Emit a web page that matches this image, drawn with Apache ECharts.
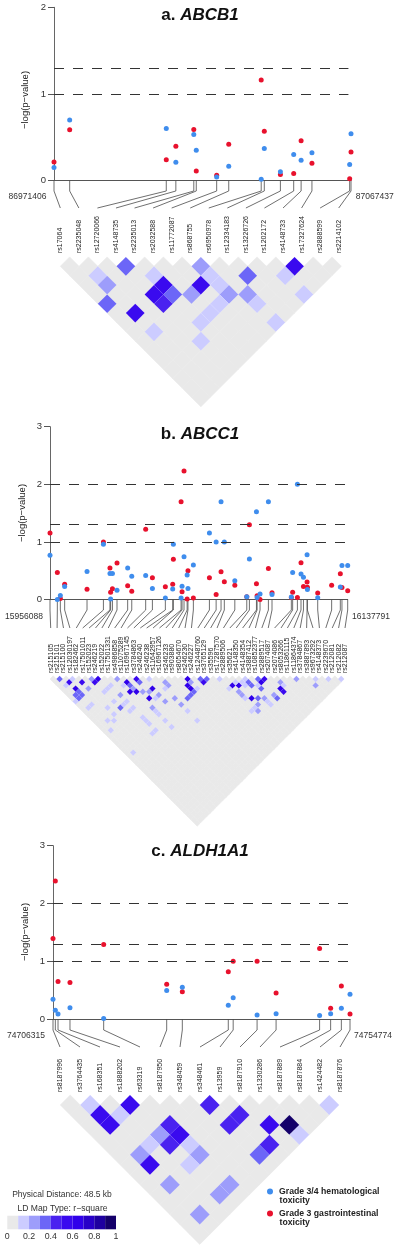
<!DOCTYPE html>
<html><head><meta charset="utf-8">
<style>html,body{margin:0;padding:0;background:#fff}#c{width:400px;height:1246px}</style>
<script src="https://cdn.jsdelivr.net/npm/echarts@6/dist/echarts.min.js"></script>
</head><body><div id="c"></div>
<script>
// ---------- Panel a: ABCB1 ----------
const snpsA = ['rs17064','rs2235048','rs12720066','rs4148735','rs2235013','rs2032588','rs11772087','rs868755','rs6950978','rs12334183','rs13226726','rs1202172','rs4148733','rs17327624','rs2888599','rs2214102'];
const posA = [0,5.07,36.3,39.4,45.2,46.0,52.6,56.5,67.0,68.0,73.2,77.5,79.9,83.4,95.6,96.03];
const redA = [.215,.585,.24,.395,.59,.11,.06,.42,1.16,.57,.07,.08,.46,.2,.02,.33];
const blueA = [.15,.7,.6,.21,.53,.35,.04,.165,.015,.37,.1,.3,.235,.32,.185,.54];
const ldA = [[3,4,.35],[12,13,.55],[7,8,.25],[1,3,.15],[1,4,.25],[4,6,.15],[4,7,.55],[3,7,.5],[4,8,.35],[3,8,.45],[5,9,.25],[6,9,.55],[7,9,.15],[7,10,.15],[7,11,.25],[6,11,.15],[5,11,.15],[4,11,.15],[9,11,.35],[8,12,.25],[8,13,.15],[0,5,.35],[1,7,.55],[1,9,.15],[3,12,.15],[8,15,.15],[11,13,.15],[11,15,.15]];
const thresholdsA = [1,1.301];

// ---------- Panel b: ABCC1 ----------
const snpsB = ['rs215105','rs215101','rs215100','rs12030197','rs182462','rs17501011','rs152023','rs246219','rs152022','rs17501331','rs4986858','rs11075289','rs16967145','rs3784863','rs246240','rs246238','rs11642957','rs16967126','rs246233','rs903880','rs8054670','rs246230','rs246227','rs12448760','rs3765129','rs35596','rs17287570','rs2889506','rs35621','rs4148350','rs4148354','rs3887412','rs10852377','rs2889517','rs2074087','rs2074086','rs8053266','rs11861115','rs11864374','rs3784867','rs3887893','rs9673292','rs4148373','rs2239670','rs212081','rs212082','rs212087'];
const posB = [0,4.48,6.31,8.95,22.6,32.6,36.6,37.0,38.1,40.9,47.4,49.9,58.4,62.5,70.4,74.9,75.3,80.0,80.6,81.8,83.7,84.2,87.5,97.3,101.4,104.4,106.4,112.8,120.1,121.7,126.0,126.4,128.2,133.3,135.5,147.3,148.1,151.0,153.2,154.7,156.9,157.1,163.4,171.9,177.2,178.2,181.7];
const redB = [1.155,.47,.02,.27,.18,1.0,.55,.13,.19,.635,.24,.145,1.22,.38,.225,.27,.70,1.70,.14,2.23,.01,.5,.03,.38,.09,.485,.31,.25,.05,1.3,.275,.07,.005,.54,.12,.04,.13,.04,.64,.23,.305,.215,.115,.25,.45,.21,.155];
const blueB = [.77,.005,.075,.23,.49,.96,.455,.01,.455,.165,.55,.405,.42,.195,.03,.185,.96,.03,.235,.745,.43,.195,.6,1.155,1.0,1.70,1.0,.33,.05,.705,1.525,.04,.1,1.7,.09,.045,.47,2.0,.445,.39,.78,.175,.035,null,.22,.595,.595];
const ldB = [[1,2,.35],[2,4,.55],[4,6,.55],[2,6,.6],[6,7,.25],[7,8,.6],[6,8,.5],[10,11,.25],[11,13,.6],[13,14,.5],[13,15,.35],[15,16,.15],[8,11,.15],[7,11,.15],[6,11,.15],[11,14,.35],[11,15,.25],[10,13,.15],[10,15,.6],[11,16,.6],[12,17,.25],[14,18,.6],[13,18,.25],[12,19,.6],[8,14,.25],[3,4,.15],[1,4,.15],[4,8,.25],[1,7,.35],[1,8,.35],[2,8,.35],[2,7,.35],[0,8,.15],[17,19,.25],[17,20,.25],[16,20,.15],[14,20,.25],[13,20,.15],[14,22,.25],[16,23,.25],[16,25,.25],[21,22,.6],[20,23,.6],[20,24,.6],[20,25,.35],[19,25,.35],[18,25,.35],[21,25,.15],[21,23,.25],[11,21,.25],[11,22,.15],[11,23,.15],[8,16,.15],[7,16,.15],[8,18,.15],[7,18,.15],[6,16,.35],[4,14,.15],[2,11,.15],[1,11,.15],[6,14,.15],[4,16,.15],[2,16,.15],[3,17,.15],[1,18,.15],[8,21,.15],[8,22,.15],[8,23,.15],[11,25,.15],[11,27,.15],[8,25,.15],[7,25,.15],[16,27,.15],[16,30,.15],[1,25,.15],[23,24,.35],[24,25,.35],[23,25,.5],[26,27,.15],[27,30,.6],[28,31,.6],[26,30,.15],[28,30,.15],[30,31,.15],[29,31,.15],[30,32,.35],[30,33,.35],[29,32,.15],[27,32,.25],[27,33,.25],[27,34,.15],[32,33,.35],[33,34,.5],[32,34,.6],[31,35,.35],[31,34,.15],[28,35,.6],[29,36,.35],[30,37,.25],[30,38,.15],[30,39,.15],[28,37,.25],[27,37,.15],[26,37,.15],[27,38,.25],[35,37,.25],[35,38,.15],[34,38,.6],[34,39,.5],[32,39,.35],[32,38,.25],[38,39,.25],[41,42,.15],[40,43,.25],[43,44,.15],[45,46,.15]];
const thresholdsB = [1,1.301,2];

// ---------- Panel c: ALDH1A1 ----------
const snpsC = ['rs8187996','rs3764435','rs168351','rs1888202','rs63319','rs8187950','rs348459','rs348461','rs13959','rs8187910','rs1330286','rs8187889','rs8187884','rs1424482','rs8187876'];
const posC = [0,.38,.82,2.77,8.27,18.55,21.1,28.6,29.4,33.3,36.4,43.5,45.3,47.05,48.46];
const redC = [1.395,2.39,.65,.63,1.29,.6,.47,.82,1.0,1.0,.45,1.22,.185,.57,.085];
const blueC = [.34,.15,.085,.195,.01,.495,.55,.24,.37,.07,.09,.06,.09,.185,.43];
const ldC = [[1,2,.15],[3,4,.5],[7,8,.45],[13,14,.15],[2,4,.15],[1,3,.5],[1,4,.5],[8,10,.45],[7,10,.45],[4,7,.45],[4,8,.5],[3,7,.25],[3,8,.45],[2,7,.15],[4,9,.15],[1,7,.25],[1,8,.55],[4,10,.25],[3,10,.15],[1,10,.25],[4,13,.25],[3,13,.25],[1,13,.25],[9,12,.55],[10,13,.95],[10,14,.15],[8,13,.45],[7,13,.35]];
const thresholdsC = [1,1.301,2];

// ---------- LD colour key ----------
const ldBinEdges = [0,.1,.2,.3,.4,.5,.6,.7,.8,.9,1];
const ldColors = ['#e9e9e9','#ccccff','#9d9dfb','#6c66f7','#4a22f0','#3a0aef','#3000ea','#2800c8','#1e00a0','#14006a'];
const BLUE = '#3f8ded', RED = '#e8112d', NAME_BLUE = 'Grade 3/4 hematological toxicity', NAME_RED = 'Grade 3 gastrointestinal toxicity';

// ---------- layout, in page pixels ----------
const panels = [
 {gene:'ABCB1', tag:'a.', snps:snpsA, pos:posA, red:redA, blue:blueA, ld:ldA, thr:thresholdsA, yMax:2, start:'86971406', end:'87067437',
  left:54, width:297, top:7.3, height:173.2, dashEnd:95.2, connEnd:208, stem:10.5, slotL:60.3, slotR:338.7, labelY:254,
  ldL:60.3, ldT:256.9, ldD:9.37, titleY:7, nameY:100, nameX:25, endY:197, endL:27.5, endR:374.7},
 {gene:'ABCC1', tag:'b.', snps:snpsB, pos:posB, red:redB, blue:blueB, ld:ldB, thr:thresholdsB, yMax:3, start:'15956088', end:'16137791',
  left:50, width:297.7, top:426.7, height:173, dashEnd:180.1, connEnd:628, stem:10.3, slotL:50.7, slotR:345, labelY:674,
  ldL:50, ldT:675.8, ldD:3.2, titleY:426, nameY:513, nameX:22, endY:617, endL:24, endR:371},
 {gene:'ALDH1A1', tag:'c.', snps:snpsC, pos:posC, red:redC, blue:blueC, ld:ldC, thr:thresholdsC, yMax:3, start:'74706315', end:'74754774',
  left:53, width:297, top:845.7, height:173.3, dashEnd:48.2, connEnd:1047, stem:11, slotL:60, slotR:340, labelY:1093,
  ldL:60.3, ldT:1095, ldD:9.96, titleY:843, nameY:932, nameX:25, endY:1036, endL:26, endR:373}
];

const grids=[], xAxes=[], yAxes=[], series=[], titles=[], graphics=[];
function addGrid(g,x,y){ grids.push(g); const idx=grids.length-1; xAxes.push(Object.assign({gridIndex:idx},x)); yAxes.push(Object.assign({gridIndex:idx},y)); return idx; }
const hidden = {show:false};
const text = (t,x,y,opt)=>({type:'text',x,y,silent:true,style:Object.assign({text:t,fill:'#333',font:'8.5px "Liberation Sans"',textAlign:'center',textVerticalAlign:'middle'},opt||{})});

panels.forEach(p=>{
  const span = p.pos[p.pos.length-1];
  // association plot
  const g0 = addGrid({left:p.left,top:p.top,width:p.width,height:p.height},
    {type:'value',min:0,max:span,axisLine:{onZero:false,lineStyle:{color:'#555',width:1}},axisTick:hidden,axisLabel:hidden,splitLine:hidden},
    {type:'value',min:0,max:p.yMax,interval:1,axisLine:{show:true,lineStyle:{color:'#666',width:1}},axisTick:{show:true,length:6,lineStyle:{color:'#555'}},axisLabel:{fontSize:9.5,color:'#333',margin:8,fontFamily:'Liberation Sans'},splitLine:hidden});
  series.push({type:'scatter',name:NAME_RED,xAxisIndex:g0,yAxisIndex:g0,clip:false,symbolSize:5,itemStyle:{color:RED,opacity:1},
    data:p.pos.map((x,i)=>[x,p.red[i]]),
    markLine:{silent:true,symbol:'none',label:hidden,lineStyle:{color:'#333',type:[10,9],width:1},
      data:p.thr.map(t=>[{coord:[0,t]},{coord:[p.dashEnd,t]}])}});
  series.push({type:'scatter',name:NAME_BLUE,xAxisIndex:g0,yAxisIndex:g0,clip:false,symbolSize:5,itemStyle:{color:BLUE,opacity:1},
    data:p.pos.map((x,i)=>[x,p.blue[i]]).filter(d=>d[1]!=null)});

  // connectors: SNP position down to its evenly spaced label slot
  const n = p.snps.length, connH = p.connEnd-(p.top+p.height);
  const slotKb = k => ((p.slotL + k*(p.slotR-p.slotL)/(n-1)) - p.left)/p.width*span;
  const g1 = addGrid({left:p.left,top:p.top+p.height,width:p.width,height:connH},
    {type:'value',min:0,max:span,show:false},{type:'value',min:0,max:connH,inverse:true,show:false});
  series.push({type:'custom',xAxisIndex:g1,yAxisIndex:g1,silent:true,
    data:p.pos.map((x,k)=>[x,slotKb(k)]),
    renderItem:(params,api)=>({type:'polyline',shape:{points:[
        api.coord([api.value(0),0]),api.coord([api.value(0),p.stem]),api.coord([api.value(1),connH])]},
      style:{stroke:'#4a4a4a',lineWidth:.8,fill:null}})});

  // SNP names along a top axis
  addGrid({left:p.slotL,top:p.labelY,width:p.slotR-p.slotL,height:1},
    {type:'category',position:'top',data:p.snps,boundaryGap:false,axisLine:hidden,axisTick:hidden,
     axisLabel:{rotate:90,interval:0,fontSize:7,color:'#222',margin:1,fontFamily:'Liberation Sans'}},
    {type:'value',show:false,min:0,max:1});

  // LD triangle
  const cells=[];
  const hit={}; p.ld.forEach(c=>{hit[c[0]+'_'+c[1]]=c[2];});
  for(let i=0;i<n-1;i++)for(let j=i+1;j<n;j++) if(!(i+'_'+j in hit)) cells.push([i,j,0]);
  p.ld.forEach(c=>cells.push(c));
  const g3 = addGrid({left:p.ldL,top:p.ldT,width:p.ldD*(2*n-2),height:p.ldD*n},
    {type:'value',min:0,max:2*n-2,show:false},{type:'value',min:0,max:n,inverse:true,show:false});
  series.push({type:'custom',xAxisIndex:g3,yAxisIndex:g3,silent:true,data:cells,
    renderItem:(params,api)=>{
      const i=api.value(0),j=api.value(1),r=api.value(2),u=i+j,v=j-i;
      const col=ldColors[Math.min(9,Math.floor(r*10))];
      return {type:'polygon',shape:{points:[api.coord([u-1,v]),api.coord([u,v-1]),api.coord([u+1,v]),api.coord([u,v+1])]},
        style:{fill:col,stroke:r===0?col:null,lineWidth:r===0?.6:0}};
    }});

  // texts
  titles.push({text:'{t|'+p.tag+' }{g|'+p.gene+'}',left:'center',top:p.titleY,padding:0,
    textStyle:{rich:{t:{fontSize:17,fontWeight:'bold',color:'#111',fontFamily:'Liberation Sans'},g:{fontSize:17,fontWeight:'bold',fontStyle:'italic',color:'#111',fontFamily:'Liberation Sans'}}}});
  graphics.push(text(p.start,p.endL,p.endY));
  graphics.push(text(p.end,p.endR,p.endY));
  graphics.push(text('\u2212log(p\u2212value)',p.nameX,p.nameY,{font:'9.5px "Liberation Sans"',fill:'#222'}));
  graphics[graphics.length-1].rotation=Math.PI/2;
});

// LD colour key
const gKey = addGrid({left:7.3,top:1215.7,width:108.7,height:13.6},
  {type:'value',min:0,max:1,interval:.2,axisLine:hidden,axisTick:hidden,splitLine:hidden,
   axisLabel:{fontSize:8.8,color:'#333',margin:3,fontFamily:'Liberation Sans',showMinLabel:true,showMaxLabel:true,hideOverlap:false}},
  {type:'value',min:0,max:1,show:false});
series.push({type:'custom',xAxisIndex:gKey,yAxisIndex:gKey,silent:true,
  data:ldBinEdges.slice(0,-1).map((e,i)=>[e,ldBinEdges[i+1]]),
  renderItem:(params,api)=>{
    const a=api.coord([api.value(0),1]),b=api.coord([api.value(1),0]);
    return {type:'rect',shape:{x:a[0],y:a[1],width:b[0]-a[0],height:b[1]-a[1]},style:{fill:ldColors[params.dataIndex]}};
  }});

graphics.push(text('Physical Distance: 48.5 kb',62,1195,{font:'8.5px "Liberation Sans"'}));
graphics.push(text('LD Map Type: r\u2212square',62.5,1209,{font:'8.6px "Liberation Sans"'}));
graphics.push(text('toxicity',279.5,1201,{font:'bold 8.7px "Liberation Sans"',textAlign:'left',fill:'#222'}));
graphics.push(text('toxicity',279.5,1223,{font:'bold 8.7px "Liberation Sans"',textAlign:'left',fill:'#222'}));

const chart = echarts.init(document.getElementById('c'),null,{renderer:'canvas'});
chart.setOption({
  animation:false,backgroundColor:'#fff',
  textStyle:{fontFamily:'Liberation Sans'},
  title:titles,grid:grids,xAxis:xAxes,yAxis:yAxes,series,
  legend:{orient:'vertical',left:267,top:1187,icon:'circle',itemWidth:6,itemHeight:6,itemGap:13,padding:0,
    data:[NAME_BLUE,NAME_RED],
    formatter:n=>n.replace(' toxicity',''),
    textStyle:{fontSize:8.7,fontWeight:'bold',color:'#222',padding:[0,0,0,1],fontFamily:'Liberation Sans'}},
  graphic:graphics
});
</script></body></html>
